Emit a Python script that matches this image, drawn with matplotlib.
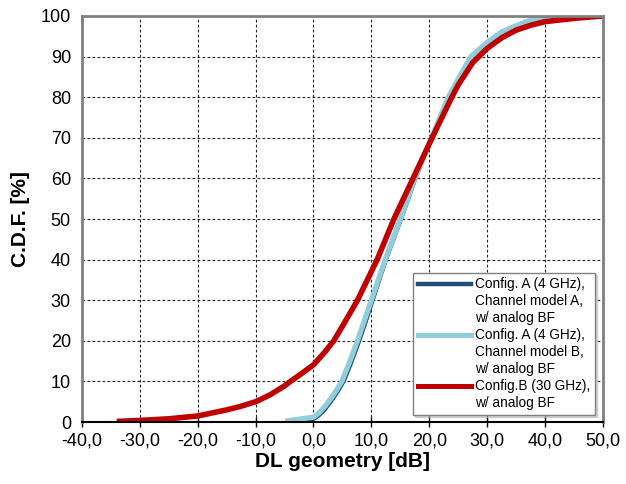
import matplotlib
matplotlib.use("Agg")
import matplotlib.pyplot as plt
from matplotlib.lines import Line2D
import numpy as np

plt.rcParams['font.family'] = ['Liberation Sans', 'DejaVu Sans']

# Config. A, channel model A (dark blue)
x_a_ma = [-2.5, -1.0, 0.0, 1.0, 2.0, 3.0, 4.2, 5.3, 6.5, 7.8, 9.0, 10.3, 12.6, 15.2, 17.7,
          20.5, 23.3, 25.0, 27.2, 30.0, 32.5, 35.0, 37.5, 40.0, 42.5, 45.0, 50.0]
y_a_ma = [0.0, 0.3, 0.6, 1.6, 3.0, 4.9, 7.4, 10.0, 14.3, 19.3, 24.3, 30.0, 40.0, 50.0, 60.0,
          70.0, 80.0, 84.5, 90.0, 93.6, 96.2, 97.7, 99.1, 99.8, 100.0, 100.0, 100.0]

# Config. A, channel model B (light blue)
x_a_mb = [-4.9, -2.5, 0.0, 1.0, 2.0, 2.9, 3.9, 4.9, 6.3, 7.6, 8.8, 10.0, 12.4, 15.0, 17.4,
          20.4, 23.3, 25.0, 27.2, 30.0, 32.5, 35.0, 37.5, 40.0, 42.5, 45.0, 50.0]
y_a_mb = [0.2, 0.7, 1.2, 2.3, 3.9, 5.6, 7.7, 10.0, 15.0, 20.0, 25.0, 30.0, 40.0, 50.0, 59.6,
          70.0, 80.0, 84.5, 90.0, 93.5, 96.0, 97.5, 99.0, 99.7, 100.0, 100.0, 100.0]

# Config. B, 30 GHz (red)
x_b = [-34.0, -30.0, -25.0, -20.0, -15.0, -12.5, -10.0, -7.5, -5.0, -4.0, -2.0, 0.0, 2.0, 3.5,
       5.0, 7.6, 9.3, 11.0, 13.9, 17.2, 20.5, 23.9, 25.0, 27.5, 30.0, 32.5, 35.0, 37.5, 40.0, 45.0, 50.0]
y_b = [0.15, 0.4, 0.8, 1.5, 3.0, 3.9, 5.0, 6.7, 8.9, 10.0, 12.0, 14.1, 17.3, 20.0,
       23.6, 30.0, 35.0, 40.0, 50.0, 60.0, 70.0, 80.0, 83.0, 88.5, 92.0, 94.6, 96.5, 97.7, 98.6, 99.4, 100.0]

labels_a_ma = ["Config. A (4 GHz),", "Channel model A,", "w/ analog BF"]
labels_a_mb = ["Config. A (4 GHz),", "Channel model B,", "w/ analog BF"]
labels_b = ["Config.B (30 GHz),", "w/ analog BF"]

c_dark = "#1f4e79"
c_light = "#92cddc"
c_red = "#c00000"

fig = plt.figure(figsize=(6.26, 4.84), dpi=100)
ax = fig.add_axes([0.131, 0.128, 0.832, 0.839])

ax.plot(x_a_ma, y_a_ma, color=c_dark, lw=2.4, solid_capstyle='butt', solid_joinstyle='round')
ax.plot(x_a_mb, y_a_mb, color=c_light, lw=3.8, solid_capstyle='butt', solid_joinstyle='round')
ax.plot(x_b, y_b, color=c_red, lw=4.0, solid_capstyle='butt', solid_joinstyle='round')

ax.set_xlim(-40, 50)
ax.set_ylim(0, 100)
ax.set_xticks(np.arange(-40, 51, 10))
ax.set_xticklabels(["{:.1f}".format(v).replace(".", ",") for v in np.arange(-40, 51, 10)])
ax.set_yticks(np.arange(0, 101, 10))
ax.tick_params(axis='x', direction='inout', length=7, width=1, labelsize=13, pad=4)
ax.tick_params(axis='y', length=0, labelsize=13, pad=8)
ax.grid(True, color='#222222', linestyle=(0, (2.5, 2)), linewidth=0.8)
ax.set_axisbelow(True)

for side in ['left', 'top', 'right']:
    ax.spines[side].set_color('#808080')
    ax.spines[side].set_linewidth(2)
ax.spines['bottom'].set_color('black')
ax.spines['bottom'].set_linewidth(1.5)

ax.set_xlabel("DL geometry [dB]", fontsize=15, fontweight='bold', labelpad=2)
ax.set_ylabel("C.D.F. [%]", fontsize=15, fontweight='bold', labelpad=8)

# legend: handle on first line of each multi-line label
blank = Line2D([], [], color='none')
handles, texts = [], []
for color, lw, lab in [(c_dark, 3.2, labels_a_ma), (c_light, 3.6, labels_a_mb), (c_red, 3.6, labels_b)]:
    handles.append(Line2D([], [], color=color, lw=lw))
    texts.append(lab[0])
    for t in lab[1:]:
        handles.append(blank)
        texts.append(t)
leg = ax.legend(handles, texts, loc='lower right', bbox_to_anchor=(0.985, 0.017),
                borderaxespad=0, fontsize=9.8, handlelength=3.9, handletextpad=0.3,
                labelspacing=0.22, borderpad=0.35, fancybox=False,
                shadow={'ox': 1.5, 'oy': -1.5, 'color': '#b0b0b0'},
                framealpha=1, edgecolor='#808080')
leg.get_frame().set_linewidth(1)

fig.savefig("out.png", dpi=100, facecolor='white')
